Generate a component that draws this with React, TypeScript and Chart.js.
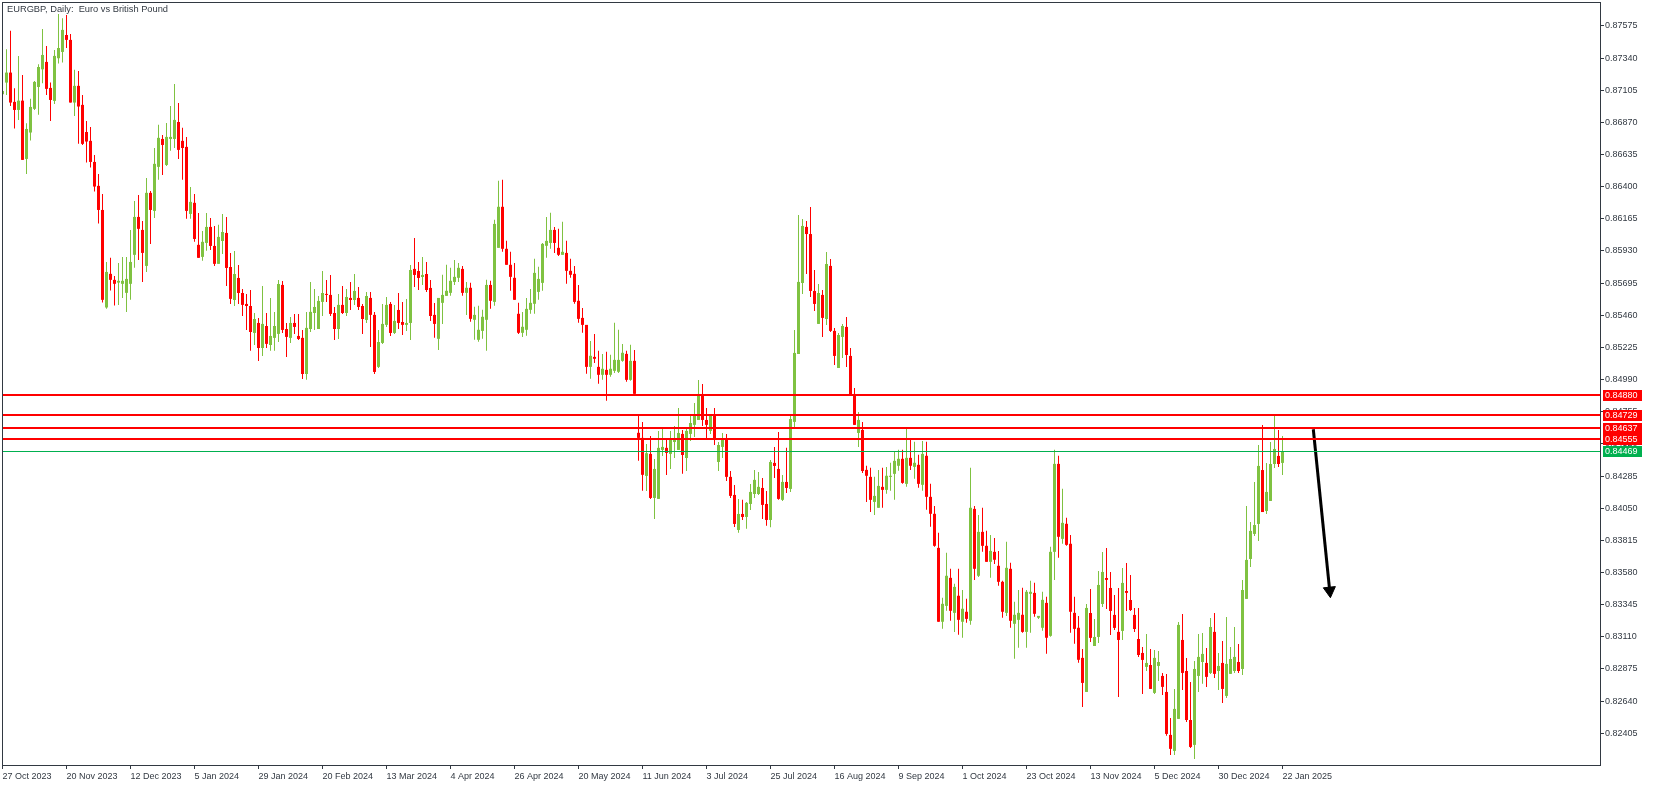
import React, { useEffect, useRef } from 'react';
import { Chart, registerables } from 'chart.js';

Chart.register(...registerables);

const TITLE = 'EURGBP, Daily:  Euro vs British Pound';

const opens = [
  0.87076,0.87161,0.87234,0.87020,0.86961,0.87029,0.86603,0.86796,0.86969,0.87129,
  0.87258,0.87312,0.87122,0.87027,0.87339,0.87385,0.87509,0.87473,0.87015,0.87137,
  0.86998,0.86800,0.86735,0.86581,0.86406,0.86230,0.85517,0.85763,0.85719,0.85699,
  0.85690,0.85624,0.85690,0.85902,0.86179,0.86084,0.85821,0.86355,0.86223,0.86545,
  0.86749,0.86559,0.86749,0.86749,0.86873,0.86735,0.86691,0.86201,0.86282,0.85975,
  0.85887,0.85989,0.86106,0.85967,0.85836,0.86003,0.86062,0.85813,0.85572,0.85733,
  0.85623,0.85543,0.85528,0.85331,0.85404,0.85221,0.85382,0.85243,0.85295,0.85324,
  0.85682,0.85360,0.85295,0.85404,0.85309,0.85295,0.85031,0.85360,0.85477,0.85360,
  0.85558,0.85616,0.85609,0.85477,0.85360,0.85536,0.85477,0.85587,0.85572,0.85587,
  0.85528,0.85426,0.85587,0.85463,0.85083,0.85258,0.85390,0.85543,0.85331,0.85499,
  0.85411,0.85390,0.85404,0.85799,0.85784,0.85740,0.85762,0.85660,0.85463,0.85288,
  0.85551,0.85602,0.85624,0.85704,0.85734,0.85799,0.85624,0.85661,0.85427,0.85281,
  0.85346,0.85427,0.85682,0.85558,0.85953,0.86253,0.85946,0.85829,0.85734,0.85471,
  0.85332,0.85354,0.85500,0.85544,0.85631,0.85697,0.85968,0.85989,0.86084,0.85953,
  0.85902,0.85916,0.85785,0.85763,0.85566,0.85441,0.85390,0.85083,0.85156,0.85083,
  0.85025,0.85061,0.85025,0.85054,0.85047,0.85127,0.85178,0.84988,0.85127,0.84601,
  0.84564,0.84286,0.84447,0.84125,0.84118,0.84476,0.84491,0.84447,0.84534,0.84476,
  0.84593,0.84417,0.84593,0.84659,0.84695,0.84885,0.84695,0.84615,0.84724,0.84388,
  0.84498,0.84556,0.84279,0.84147,0.83891,0.84008,0.83986,0.84081,0.84154,0.84154,
  0.84198,0.84081,0.83964,0.84381,0.84337,0.84111,0.84242,0.84191,0.84681,0.85177,
  0.85696,0.86106,0.86054,0.85638,0.85397,0.85609,0.85433,0.85821,0.85346,0.85075,
  0.85302,0.85375,0.85163,0.84885,0.84600,0.84622,0.84330,0.84279,0.84096,0.84053,
  0.84206,0.84184,0.84279,0.84301,0.84360,0.84411,0.84228,0.84418,0.84352,0.84367,
  0.84221,0.84433,0.84133,0.84009,0.83760,0.83220,0.83336,0.83541,0.83285,0.83410,
  0.83220,0.83293,0.83227,0.84045,0.83556,0.83877,0.83775,0.83658,0.83731,0.83629,
  0.83512,0.83285,0.83607,0.83205,0.83234,0.83271,0.83146,0.83424,0.83431,0.83249,
  0.83176,0.83358,0.83117,0.83731,0.84374,0.83826,0.83936,0.83790,0.83285,0.83176,
  0.82956,0.82707,0.83284,0.83043,0.83109,0.83350,0.83540,0.83467,0.83270,0.83146,
  0.83153,0.83445,0.83379,0.83270,0.83094,0.82992,0.82890,0.82904,0.82700,0.82897,
  0.82824,0.82707,0.82393,0.82276,0.82510,0.83087,0.82860,0.82502,0.82320,0.82824,
  0.82926,0.82919,0.82846,0.83146,0.82860,0.82919,0.82678,0.82839,0.82860,0.82926,
  0.82875,0.83387,0.83679,0.83862,0.83935,0.84329,0.84030,0.84103,0.84373,0.84432,
  0.84381,
];

const highs = [
  0.87100,0.87405,0.87539,0.87120,0.87356,0.87217,0.86864,0.87042,0.87173,0.87295,
  0.87553,0.87429,0.87161,0.87400,0.87663,0.87631,0.87655,0.87517,0.87254,0.87246,
  0.87071,0.86881,0.86837,0.86632,0.86493,0.86347,0.85850,0.85880,0.85748,0.85843,
  0.85887,0.85887,0.86084,0.86296,0.86340,0.86150,0.86464,0.86369,0.86683,0.86852,
  0.86778,0.86866,0.86990,0.87151,0.87012,0.86830,0.86764,0.86398,0.86347,0.86208,
  0.86077,0.86208,0.86172,0.86113,0.86121,0.86201,0.86179,0.85916,0.85930,0.85828,
  0.85653,0.85616,0.85645,0.85477,0.85441,0.85675,0.85477,0.85587,0.85485,0.85718,
  0.85711,0.85404,0.85448,0.85470,0.85470,0.85353,0.85485,0.85704,0.85653,0.85601,
  0.85784,0.85718,0.85755,0.85521,0.85616,0.85675,0.85653,0.85704,0.85762,0.85667,
  0.85543,0.85631,0.85631,0.85485,0.85353,0.85543,0.85594,0.85558,0.85536,0.85623,
  0.85558,0.85580,0.85828,0.86025,0.85850,0.85886,0.85850,0.85718,0.85550,0.85587,
  0.85756,0.85829,0.85807,0.85865,0.85843,0.85821,0.85704,0.85697,0.85522,0.85529,
  0.85500,0.85719,0.85712,0.86158,0.86443,0.86450,0.86004,0.85924,0.85843,0.85551,
  0.85485,0.85587,0.85653,0.85873,0.85814,0.85989,0.86179,0.86209,0.86106,0.86092,
  0.86143,0.86004,0.85873,0.85821,0.85682,0.85514,0.85390,0.85273,0.85324,0.85200,
  0.85178,0.85193,0.85171,0.85405,0.85354,0.85251,0.85200,0.85244,0.85207,0.84732,
  0.84681,0.84520,0.84578,0.84410,0.84615,0.84629,0.84549,0.84615,0.84651,0.84783,
  0.84622,0.84629,0.84739,0.84819,0.84987,0.84958,0.84783,0.84739,0.84783,0.84534,
  0.84600,0.84593,0.84322,0.84220,0.84118,0.84111,0.84096,0.84227,0.84330,0.84315,
  0.84271,0.84176,0.84403,0.84498,0.84607,0.84293,0.84491,0.84724,0.85353,0.86193,
  0.86164,0.86149,0.86252,0.85791,0.85689,0.85645,0.85923,0.85872,0.85367,0.85331,
  0.85397,0.85448,0.85221,0.84929,0.84754,0.84681,0.84360,0.84345,0.84279,0.84330,
  0.84345,0.84352,0.84382,0.84469,0.84477,0.84477,0.84637,0.84557,0.84535,0.84440,
  0.84542,0.84535,0.84228,0.84067,0.83870,0.83395,0.83724,0.83607,0.83497,0.83607,
  0.83453,0.83388,0.84345,0.84067,0.84001,0.84053,0.83885,0.83855,0.83833,0.83738,
  0.83519,0.83804,0.83651,0.83366,0.83453,0.83468,0.83453,0.83519,0.83505,0.83263,
  0.83439,0.83402,0.83768,0.84477,0.84433,0.84192,0.83980,0.83855,0.83402,0.83263,
  0.83021,0.83350,0.83460,0.83241,0.83591,0.83730,0.83759,0.83584,0.83416,0.83467,
  0.83613,0.83650,0.83562,0.83321,0.83321,0.83036,0.83131,0.83021,0.83014,0.83007,
  0.82846,0.82839,0.82517,0.82729,0.83219,0.83277,0.82956,0.82780,0.82934,0.83131,
  0.83138,0.83029,0.83248,0.83284,0.82992,0.83080,0.83255,0.83036,0.83182,0.83058,
  0.83526,0.84066,0.83949,0.84242,0.84512,0.84658,0.84381,0.84534,0.84731,0.84622,
  0.84578,
];

const lows = [
  0.87071,0.87071,0.86990,0.86825,0.86888,0.86596,0.86493,0.86737,0.86961,0.86925,
  0.87156,0.87071,0.86881,0.87005,0.87300,0.87307,0.87414,0.87015,0.86917,0.86713,
  0.86705,0.86576,0.86540,0.86364,0.86131,0.85553,0.85507,0.85641,0.85531,0.85536,
  0.85587,0.85485,0.85573,0.85807,0.85865,0.85704,0.85777,0.85982,0.86172,0.86450,
  0.86486,0.86552,0.86662,0.86683,0.86603,0.86450,0.86165,0.86165,0.85997,0.85880,
  0.85858,0.85931,0.85938,0.85821,0.85836,0.85908,0.85675,0.85543,0.85528,0.85543,
  0.85455,0.85353,0.85200,0.85243,0.85126,0.85163,0.85221,0.85200,0.85200,0.85265,
  0.85331,0.85156,0.85258,0.85324,0.85280,0.84995,0.84988,0.85338,0.85353,0.85360,
  0.85455,0.85558,0.85455,0.85280,0.85287,0.85470,0.85455,0.85499,0.85536,0.85499,
  0.85324,0.85404,0.85229,0.85031,0.85075,0.85251,0.85375,0.85309,0.85324,0.85360,
  0.85316,0.85346,0.85280,0.85667,0.85645,0.85682,0.85631,0.85419,0.85295,0.85207,
  0.85397,0.85602,0.85602,0.85682,0.85704,0.85602,0.85463,0.85412,0.85281,0.85266,
  0.85288,0.85200,0.85507,0.85529,0.85953,0.85924,0.85829,0.85639,0.85573,0.85324,
  0.85302,0.85310,0.85471,0.85471,0.85573,0.85639,0.85880,0.85946,0.85916,0.85894,
  0.85902,0.85690,0.85734,0.85544,0.85405,0.85332,0.85032,0.84996,0.85112,0.84959,
  0.84988,0.84835,0.85010,0.85039,0.85039,0.85120,0.84974,0.84981,0.84886,0.84396,
  0.84177,0.84176,0.84118,0.83972,0.84118,0.84432,0.84293,0.84337,0.84417,0.84476,
  0.84301,0.84322,0.84542,0.84571,0.84695,0.84651,0.84556,0.84593,0.84512,0.84322,
  0.84417,0.84249,0.84125,0.83913,0.83870,0.83964,0.83899,0.84037,0.84125,0.84147,
  0.83972,0.83921,0.83911,0.84271,0.84111,0.84103,0.84162,0.84169,0.84637,0.85177,
  0.85616,0.85762,0.85594,0.85492,0.85397,0.85302,0.85389,0.85338,0.85097,0.85075,
  0.85148,0.85082,0.84871,0.84659,0.84498,0.84308,0.84096,0.84023,0.84001,0.84053,
  0.84053,0.84155,0.84177,0.84111,0.84323,0.84228,0.84206,0.84330,0.84265,0.84199,
  0.84177,0.84038,0.83914,0.83768,0.83220,0.83168,0.83300,0.83227,0.83146,0.83125,
  0.83103,0.83212,0.83198,0.83526,0.83548,0.83731,0.83658,0.83541,0.83643,0.83483,
  0.83249,0.83263,0.83176,0.82949,0.83030,0.83139,0.83030,0.83139,0.83256,0.83241,
  0.83154,0.82986,0.83110,0.83526,0.83687,0.83790,0.83775,0.83139,0.83059,0.82920,
  0.82597,0.82707,0.83072,0.83043,0.83065,0.83328,0.83314,0.83124,0.83160,0.82670,
  0.83087,0.83299,0.83299,0.83146,0.82963,0.82692,0.82860,0.82729,0.82692,0.82787,
  0.82685,0.82386,0.82247,0.82247,0.82510,0.82722,0.82488,0.82298,0.82217,0.82707,
  0.82766,0.82744,0.82839,0.82809,0.82722,0.82627,0.82663,0.82839,0.82846,0.82846,
  0.82831,0.83387,0.83621,0.83847,0.83811,0.84022,0.84008,0.84103,0.84344,0.84351,
  0.84293,
];

const closes = [
  0.87100,0.87234,0.87015,0.86961,0.87029,0.86596,0.86822,0.86983,0.87166,0.87275,
  0.87363,0.87115,0.87034,0.87356,0.87414,0.87546,0.87473,0.87015,0.87137,0.86986,
  0.86713,0.86730,0.86581,0.86401,0.86230,0.85573,0.85777,0.85719,0.85690,0.85712,
  0.85712,0.85726,0.85850,0.86179,0.86092,0.85916,0.86355,0.86230,0.86567,0.86757,
  0.86705,0.86764,0.86764,0.86888,0.86669,0.86683,0.86223,0.86289,0.86018,0.85880,
  0.85997,0.86106,0.85967,0.85836,0.86033,0.86069,0.85806,0.85580,0.85762,0.85623,
  0.85536,0.85528,0.85338,0.85433,0.85221,0.85397,0.85251,0.85309,0.85382,0.85689,
  0.85353,0.85302,0.85404,0.85375,0.85287,0.85031,0.85368,0.85485,0.85521,0.85565,
  0.85623,0.85609,0.85470,0.85360,0.85536,0.85477,0.85594,0.85572,0.85638,0.85521,
  0.85433,0.85601,0.85463,0.85046,0.85265,0.85397,0.85536,0.85331,0.85419,0.85404,
  0.85390,0.85404,0.85791,0.85755,0.85733,0.85755,0.85645,0.85455,0.85397,0.85587,
  0.85609,0.85639,0.85712,0.85741,0.85807,0.85624,0.85661,0.85434,0.85463,0.85354,
  0.85449,0.85682,0.85566,0.86128,0.86253,0.85946,0.85829,0.85741,0.85573,0.85332,
  0.85376,0.85507,0.85551,0.85770,0.85726,0.85982,0.86004,0.86084,0.85989,0.85902,
  0.85924,0.85785,0.85756,0.85558,0.85434,0.85390,0.85083,0.85164,0.85142,0.85025,
  0.85069,0.85025,0.85069,0.85134,0.85134,0.85186,0.84988,0.85127,0.84886,0.84564,
  0.84294,0.84452,0.84125,0.84337,0.84491,0.84498,0.84454,0.84549,0.84549,0.84600,
  0.84439,0.84615,0.84673,0.84724,0.84885,0.84695,0.84659,0.84724,0.84556,0.84512,
  0.84556,0.84279,0.84140,0.83935,0.84008,0.83986,0.84089,0.84169,0.84257,0.84206,
  0.84074,0.83964,0.84388,0.84359,0.84118,0.84242,0.84198,0.84702,0.85185,0.85704,
  0.86113,0.86054,0.85638,0.85543,0.85623,0.85441,0.85835,0.85346,0.85163,0.85316,
  0.85382,0.85170,0.84871,0.84659,0.84695,0.84322,0.84287,0.84111,0.84140,0.84213,
  0.84184,0.84287,0.84287,0.84396,0.84411,0.84235,0.84418,0.84360,0.84382,0.84228,
  0.84447,0.84133,0.84009,0.83775,0.83220,0.83351,0.83556,0.83300,0.83475,0.83234,
  0.83315,0.83241,0.84053,0.83607,0.83877,0.83775,0.83658,0.83738,0.83673,0.83512,
  0.83293,0.83614,0.83227,0.83271,0.83285,0.83146,0.83439,0.83439,0.83278,0.83263,
  0.83380,0.83103,0.83731,0.84374,0.83841,0.83943,0.83782,0.83293,0.83168,0.82942,
  0.82773,0.83321,0.83102,0.83109,0.83489,0.83584,0.83526,0.83299,0.83175,0.83087,
  0.83504,0.83431,0.83306,0.83167,0.82977,0.82941,0.82919,0.82729,0.82956,0.82926,
  0.82744,0.82400,0.82291,0.82583,0.83197,0.82846,0.82502,0.82305,0.82875,0.82963,
  0.82985,0.82817,0.83182,0.82839,0.82897,0.82729,0.82912,0.82948,0.82963,0.82860,
  0.83452,0.83672,0.83884,0.83927,0.84359,0.84022,0.84169,0.84373,0.84483,0.84373,
  0.84468,
];

// bar indices where the date labels sit, and the labels themselves
const xTickPositions = [0, 16, 32, 48, 64, 80, 96, 112, 128, 144, 160, 176, 192, 208, 224, 240, 256, 272, 288, 304, 320];
const xTickLabels = [
  '27 Oct 2023', '20 Nov 2023', '12 Dec 2023', '5 Jan 2024', '29 Jan 2024', '20 Feb 2024',
  '13 Mar 2024', '4 Apr 2024', '26 Apr 2024', '20 May 2024', '11 Jun 2024', '3 Jul 2024',
  '25 Jul 2024', '16 Aug 2024', '9 Sep 2024', '1 Oct 2024', '23 Oct 2024', '13 Nov 2024',
  '5 Dec 2024', '30 Dec 2024', '22 Jan 2025',
];
const yTickValues = [
  0.87575, 0.8734, 0.87105, 0.8687, 0.86635, 0.864, 0.86165, 0.8593, 0.85695, 0.8546, 0.85225,
  0.8499, 0.84755, 0.8452, 0.84285, 0.8405, 0.83815, 0.8358, 0.83345, 0.8311, 0.82875, 0.8264, 0.82405,
];

const resistanceLevels = [0.8488, 0.84729, 0.84637, 0.84555];
const supportLevel = 0.84469;

// projected move: from (bar index, price) to (bar index, price)
const arrowFrom = { x: 327.7, y: 0.84627 };
const arrowTo = { x: 331.8, y: 0.83447 };

const Y_MIN = 0.82173;
const Y_MAX = 0.8775;
const X_MIN = -0.125;
const X_MAX = 399.375;

const BULL = '#7fc241';
const BEAR = '#ff0000';
const RES = '#ff0000';
const SUP = '#00b04f';
const AXIS = '#323942';
const FONT_FAMILY = '"Liberation Sans", Arial, sans-serif';

const overlayPlugin = {
  id: 'mt5Overlay',
  beforeDraw(chart: any) {
    const { ctx, width, height } = chart;
    ctx.save();
    ctx.fillStyle = '#ffffff';
    ctx.fillRect(0, 0, width, height);
    ctx.restore();
  },
  afterDatasetsDraw(chart: any) {
    const { ctx, chartArea, scales } = chart;
    const y = scales.y;
    const w = chartArea.right - chartArea.left;
    ctx.save();
    ctx.fillStyle = RES;
    for (const v of resistanceLevels) {
      const py = Math.round(y.getPixelForValue(v));
      ctx.fillRect(chartArea.left, py - 1, w, 2);
    }
    ctx.fillStyle = SUP;
    const sy = Math.round(y.getPixelForValue(supportLevel));
    ctx.fillRect(chartArea.left, sy, w, 1);
    ctx.restore();
  },
  afterDraw(chart: any) {
    const { ctx, chartArea, scales } = chart;
    const y = scales.y;
    ctx.save();
    // frame
    ctx.strokeStyle = AXIS;
    ctx.lineWidth = 1;
    ctx.strokeRect(chartArea.left + 0.5, chartArea.top + 0.5, chartArea.right - chartArea.left, chartArea.bottom - chartArea.top);
    // price boxes
    const boxes = [
      ...resistanceLevels.map((v) => ({ v, c: RES })),
      { v: supportLevel, c: SUP },
    ];
    ctx.font = `9px ${FONT_FAMILY}`;
    ctx.textBaseline = 'middle';
    ctx.textAlign = 'left';
    for (const b of boxes) {
      const py = Math.round(y.getPixelForValue(b.v));
      ctx.fillStyle = b.c;
      ctx.fillRect(chartArea.right + 3, py - 5, 39, 11);
      ctx.fillStyle = '#ffffff';
      ctx.fillText(b.v.toFixed(5), chartArea.right + 5, py + 0.5);
    }
    // title
    ctx.fillStyle = AXIS;
    ctx.font = `9.3px ${FONT_FAMILY}`;
    ctx.fillText(TITLE, chartArea.left + 5, chartArea.top + 7);
    ctx.restore();
  },
};

export default function App() {
  const ref = useRef<HTMLCanvasElement | null>(null);

  useEffect(() => {
    const canvas = ref.current;
    if (!canvas) return;
    const colors = closes.map((c, i) => (c >= opens[i] ? BULL : BEAR));
    const wickData = lows.map((l, i) => ({ x: i, y: [l, highs[i]] }));
    const bodyData = opens.map((o, i) => ({ x: i, y: [o, closes[i]] }));
    const angle = 174.2;

    const tickFont = { family: FONT_FAMILY, size: 9 };
    const gridOpts = {
      display: true,
      drawOnChartArea: false,
      drawTicks: true,
      tickLength: 4,
      tickColor: AXIS,
      tickWidth: 1,
      offset: false,
      color: AXIS,
    };

    const chart = new Chart(canvas, {
      type: 'bar',
      data: {
        datasets: [
          {
            type: 'line',
            data: [arrowFrom, arrowTo],
            borderColor: '#000000',
            borderWidth: 3,
            pointRadius: [0, 7],
            pointStyle: 'triangle',
            pointRotation: [0, angle],
            pointBackgroundColor: '#000000',
            pointBorderColor: '#000000',
            pointBorderWidth: 1,
            fill: false,
            tension: 0,
            order: 0,
          } as any,
          {
            type: 'bar',
            data: bodyData as any,
            backgroundColor: colors,
            borderWidth: 0,
            barThickness: 3,
            minBarLength: 1,
            grouped: false,
            inflateAmount: 0,
            order: 1,
          } as any,
          {
            type: 'bar',
            data: wickData as any,
            backgroundColor: colors,
            borderWidth: 0,
            barThickness: 1,
            minBarLength: 1,
            grouped: false,
            inflateAmount: 0,
            order: 2,
          } as any,
        ],
      },
      options: {
        responsive: false,
        maintainAspectRatio: false,
        animation: false,
        devicePixelRatio: 1,
        events: [],
        layout: { autoPadding: false, padding: { left: 2, top: 2, right: 0, bottom: 0 } },
        plugins: {
          legend: { display: false },
          tooltip: { enabled: false },
          title: { display: false },
        },
        scales: {
          x: {
            type: 'linear',
            position: 'bottom',
            min: X_MIN,
            max: X_MAX,
            offset: false,
            bounds: 'data',
            grid: gridOpts,
            border: { display: false },
            ticks: {
              autoSkip: false,
              maxRotation: 0,
              minRotation: 0,
              align: 'start',
              padding: 2,
              color: AXIS,
              font: tickFont,
              callback: (v: any) => {
                const k = xTickPositions.indexOf(Number(v));
                return k >= 0 ? xTickLabels[k] : '';
              },
            },
            afterBuildTicks: (s: any) => {
              s.ticks = xTickPositions.map((v) => ({ value: v }));
            },
            afterFit: (s: any) => {
              s.height = 21;
              s.paddingLeft = 0;
              s.paddingRight = 0;
              s.paddingTop = 0;
              s.paddingBottom = 0;
            },
          } as any,
          y: {
            type: 'linear',
            position: 'right',
            min: Y_MIN,
            max: Y_MAX,
            bounds: 'data',
            beginAtZero: false,
            grid: gridOpts,
            border: { display: false },
            ticks: {
              autoSkip: false,
              padding: 1,
              color: AXIS,
              font: tickFont,
              callback: (v: any) => Number(v).toFixed(5),
            },
            afterBuildTicks: (s: any) => {
              s.ticks = yTickValues.map((v) => ({ value: v }));
            },
            afterFit: (s: any) => {
              s.width = 53;
              s.paddingLeft = 0;
              s.paddingRight = 0;
              s.paddingTop = 0;
              s.paddingBottom = 0;
            },
          } as any,
        },
      } as any,
      plugins: [overlayPlugin],
    });

    return () => chart.destroy();
  }, []);

  return (
    <div style={{ position: 'fixed', left: 0, top: 0, width: 1653, height: 786, background: '#ffffff' }}>
      <canvas ref={ref} width={1653} height={786} style={{ display: 'block', width: 1653, height: 786 }} />
    </div>
  );
}
